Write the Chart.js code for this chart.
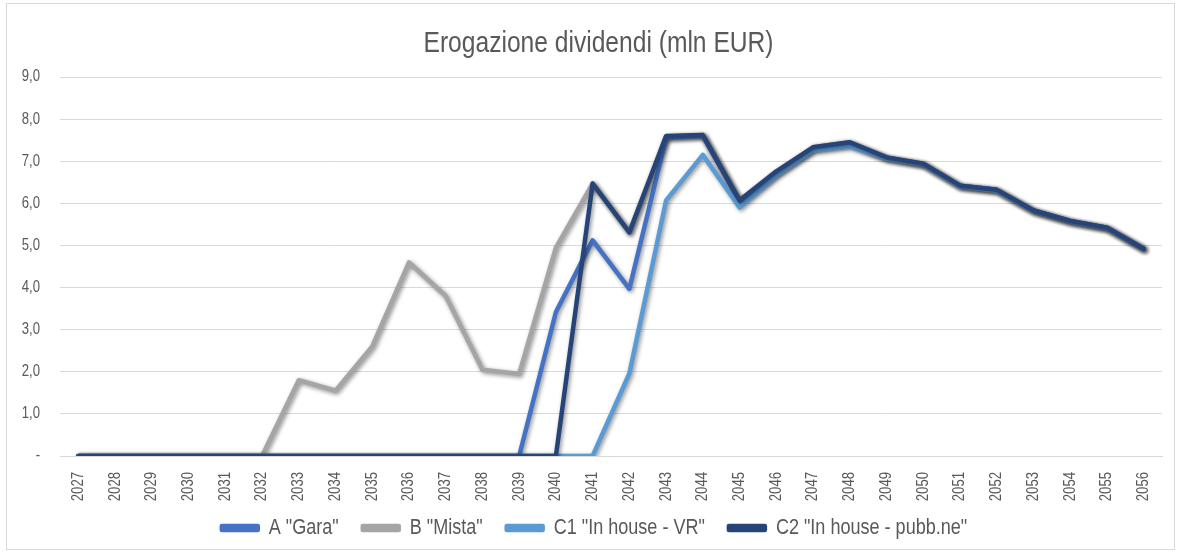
<!DOCTYPE html>
<html>
<head>
<meta charset="utf-8">
<script src="https://cdn.jsdelivr.net/npm/chart.js@4.4.0/dist/chart.umd.min.js"></script>
<style>
  html, body { margin: 0; padding: 0; background: #fff; }
  #wrap { position: relative; width: 1181px; height: 554px; }
  #cornice { position: absolute; left: 6px; top: 3px; width: 1167px; height: 545px; border: 1px solid #d9d9d9; }
  canvas { position: absolute; left: 0; top: 0; }
</style>
</head>
<body>
<div id="wrap">
  <div id="cornice"></div>
  <canvas id="grafico" width="1181" height="554"></canvas>
</div>
<script>
// Anni sull'asse orizzontale
const anni = [];
for (let a = 2027; a <= 2056; a++) anni.push(String(a));

// Valori (mln EUR)
const gara = [0, 0, 0, 0, 0, 0, 0, 0, 0, 0, 0, 0, 0, 3.42, 5.12, 3.97, 7.55, 7.6, 6.05, 6.72, 7.3, 7.42, 7.08, 6.93, 6.42, 6.32, 5.83, 5.58, 5.42, 4.92];
const mista = [0, 0, 0, 0, 0, 0, 1.8, 1.55, 2.6, 4.6, 3.8, 2.05, 1.95, 4.95, 6.47, 5.31, 7.58, 7.62, 6.05, 6.74, 7.33, 7.45, 7.09, 6.94, 6.42, 6.32, 5.83, 5.58, 5.42, 4.92];
const inHouseVR = [0, 0, 0, 0, 0, 0, 0, 0, 0, 0, 0, 0, 0, 0, 0, 1.96, 6.07, 7.15, 5.9, 6.65, 7.25, 7.35, 7.06, 6.92, 6.4, 6.3, 5.82, 5.57, 5.41, 4.92];
const inHousePubb = [0, 0, 0, 0, 0, 0, 0, 0, 0, 0, 0, 0, 0, 0, 6.47, 5.31, 7.6, 7.62, 6.07, 6.76, 7.33, 7.45, 7.09, 6.94, 6.42, 6.32, 5.83, 5.58, 5.42, 4.92];

// ordine: la serie con ordine più basso viene disegnata sopra
const serie = [
    { nome: 'A "Gara"', dati: gara, colore: '#4472C4', ordine: 3 },
    { nome: 'B "Mista"', dati: mista, colore: '#A5A5A5', ordine: 4 },
    { nome: 'C1 "In house - VR"', dati: inHouseVR, colore: '#5B9BD5', ordine: 1 },
    { nome: 'C2 "In house - pubb.ne"', dati: inHousePubb, colore: '#264478', ordine: 0 }
];

// Testo "stretto" (tipo Arial Narrow): si restringe in orizzontale la Liberation Sans
const canvas = document.getElementById('grafico');
const ctx = canvas.getContext('2d');
const STRETTO = 0.82;
const fillOrig = ctx.fillText;
const measureOrig = ctx.measureText;
ctx.fillText = function (testo, x, y) {
    this.save();
    this.translate(x, y);
    this.scale(STRETTO, 1);
    fillOrig.call(this, testo, 0, 0);
    this.restore();
};
ctx.measureText = function (testo) {
    const m = measureOrig.call(this, testo);
    return {
        width: m.width * STRETTO,
        actualBoundingBoxAscent: m.actualBoundingBoxAscent,
        actualBoundingBoxDescent: m.actualBoundingBoxDescent,
        actualBoundingBoxLeft: m.actualBoundingBoxLeft * STRETTO,
        actualBoundingBoxRight: m.actualBoundingBoxRight * STRETTO
    };
};

// Ombra sotto le linee, come nel grafico di Excel
const ombraLinee = {
    id: 'ombraLinee',
    beforeDatasetDraw(chart) {
        chart.ctx.save();
        chart.ctx.shadowColor = 'rgba(0,0,0,0.45)';
        chart.ctx.shadowBlur = 4;
        chart.ctx.shadowOffsetX = 1.5;
        chart.ctx.shadowOffsetY = 1.5;
    },
    afterDatasetDraw(chart) {
        chart.ctx.restore();
    }
};

// Legenda un po' più bassa di quella standard, e piccoli spostamenti di titolo e legenda
const spostaBlocchi = {
    id: 'spostaBlocchi',
    beforeLayout(chart) {
        const l = chart.legend;
        if (l && !l._ridotta) {
            const fitOrig = l.fit;
            l.fit = function () { fitOrig.call(this); this.height -= 8; };
            l._ridotta = true;
        }
    },
    afterLayout(chart) {
        const t = chart.titleBlock;
        if (t) { t.left += 14; t.right += 14; }
        const l = chart.legend;
        if (l) { l.left += 10; l.right += 10; l.top -= 13; l.bottom -= 13; }
    }
};

const fontTesto = "'Liberation Sans', Arial, sans-serif";

new Chart(canvas, {
    type: 'line',
    data: {
        labels: anni,
        datasets: serie.map(s => ({
            label: s.nome,
            data: s.dati,
            order: s.ordine,
            borderColor: s.colore,
            backgroundColor: s.colore,
            borderWidth: 4.5,
            pointRadius: 0,
            tension: 0,
            borderCapStyle: 'round',
            borderJoinStyle: 'round'
        }))
    },
    options: {
        responsive: false,
        animation: false,
        layout: { padding: { left: 7, right: 19, top: 0, bottom: 0 } },
        plugins: {
            title: {
                display: true,
                text: 'Erogazione dividendi (mln EUR)',
                color: '#595959',
                font: { family: fontTesto, size: 30, weight: 'normal', lineHeight: 1.2 },
                padding: { top: 26, bottom: 15 }
            },
            legend: {
                position: 'bottom',
                labels: {
                    color: '#595959',
                    font: { family: fontTesto, size: 22 },
                    boxWidth: 36,
                    boxHeight: 4,
                    padding: 24,
                    sort: (a, b) => a.datasetIndex - b.datasetIndex
                }
            },
            tooltip: { enabled: false }
        },
        scales: {
            x: {
                offset: true,
                afterFit(scale) { scale.height = 50; },
                grid: { display: false },
                border: { display: true, color: '#d9d9d9', width: 1 },
                ticks: {
                    color: '#595959',
                    font: { family: fontTesto, size: 16 },
                    minRotation: 90,
                    maxRotation: 90,
                    autoSkip: false,
                    padding: 8
                }
            },
            y: {
                min: 0,
                max: 9,
                afterFit(scale) { scale.width = 53; },
                grid: { color: '#d9d9d9', lineWidth: 1, drawTicks: false },
                border: { display: false },
                ticks: {
                    stepSize: 1,
                    color: '#595959',
                    font: { family: fontTesto, size: 16 },
                    padding: 20,
                    callback: v => v === 0 ? '-' : v.toFixed(1).replace('.', ',')
                }
            }
        }
    },
    plugins: [ombraLinee, spostaBlocchi]
});
</script>
</body>
</html>
